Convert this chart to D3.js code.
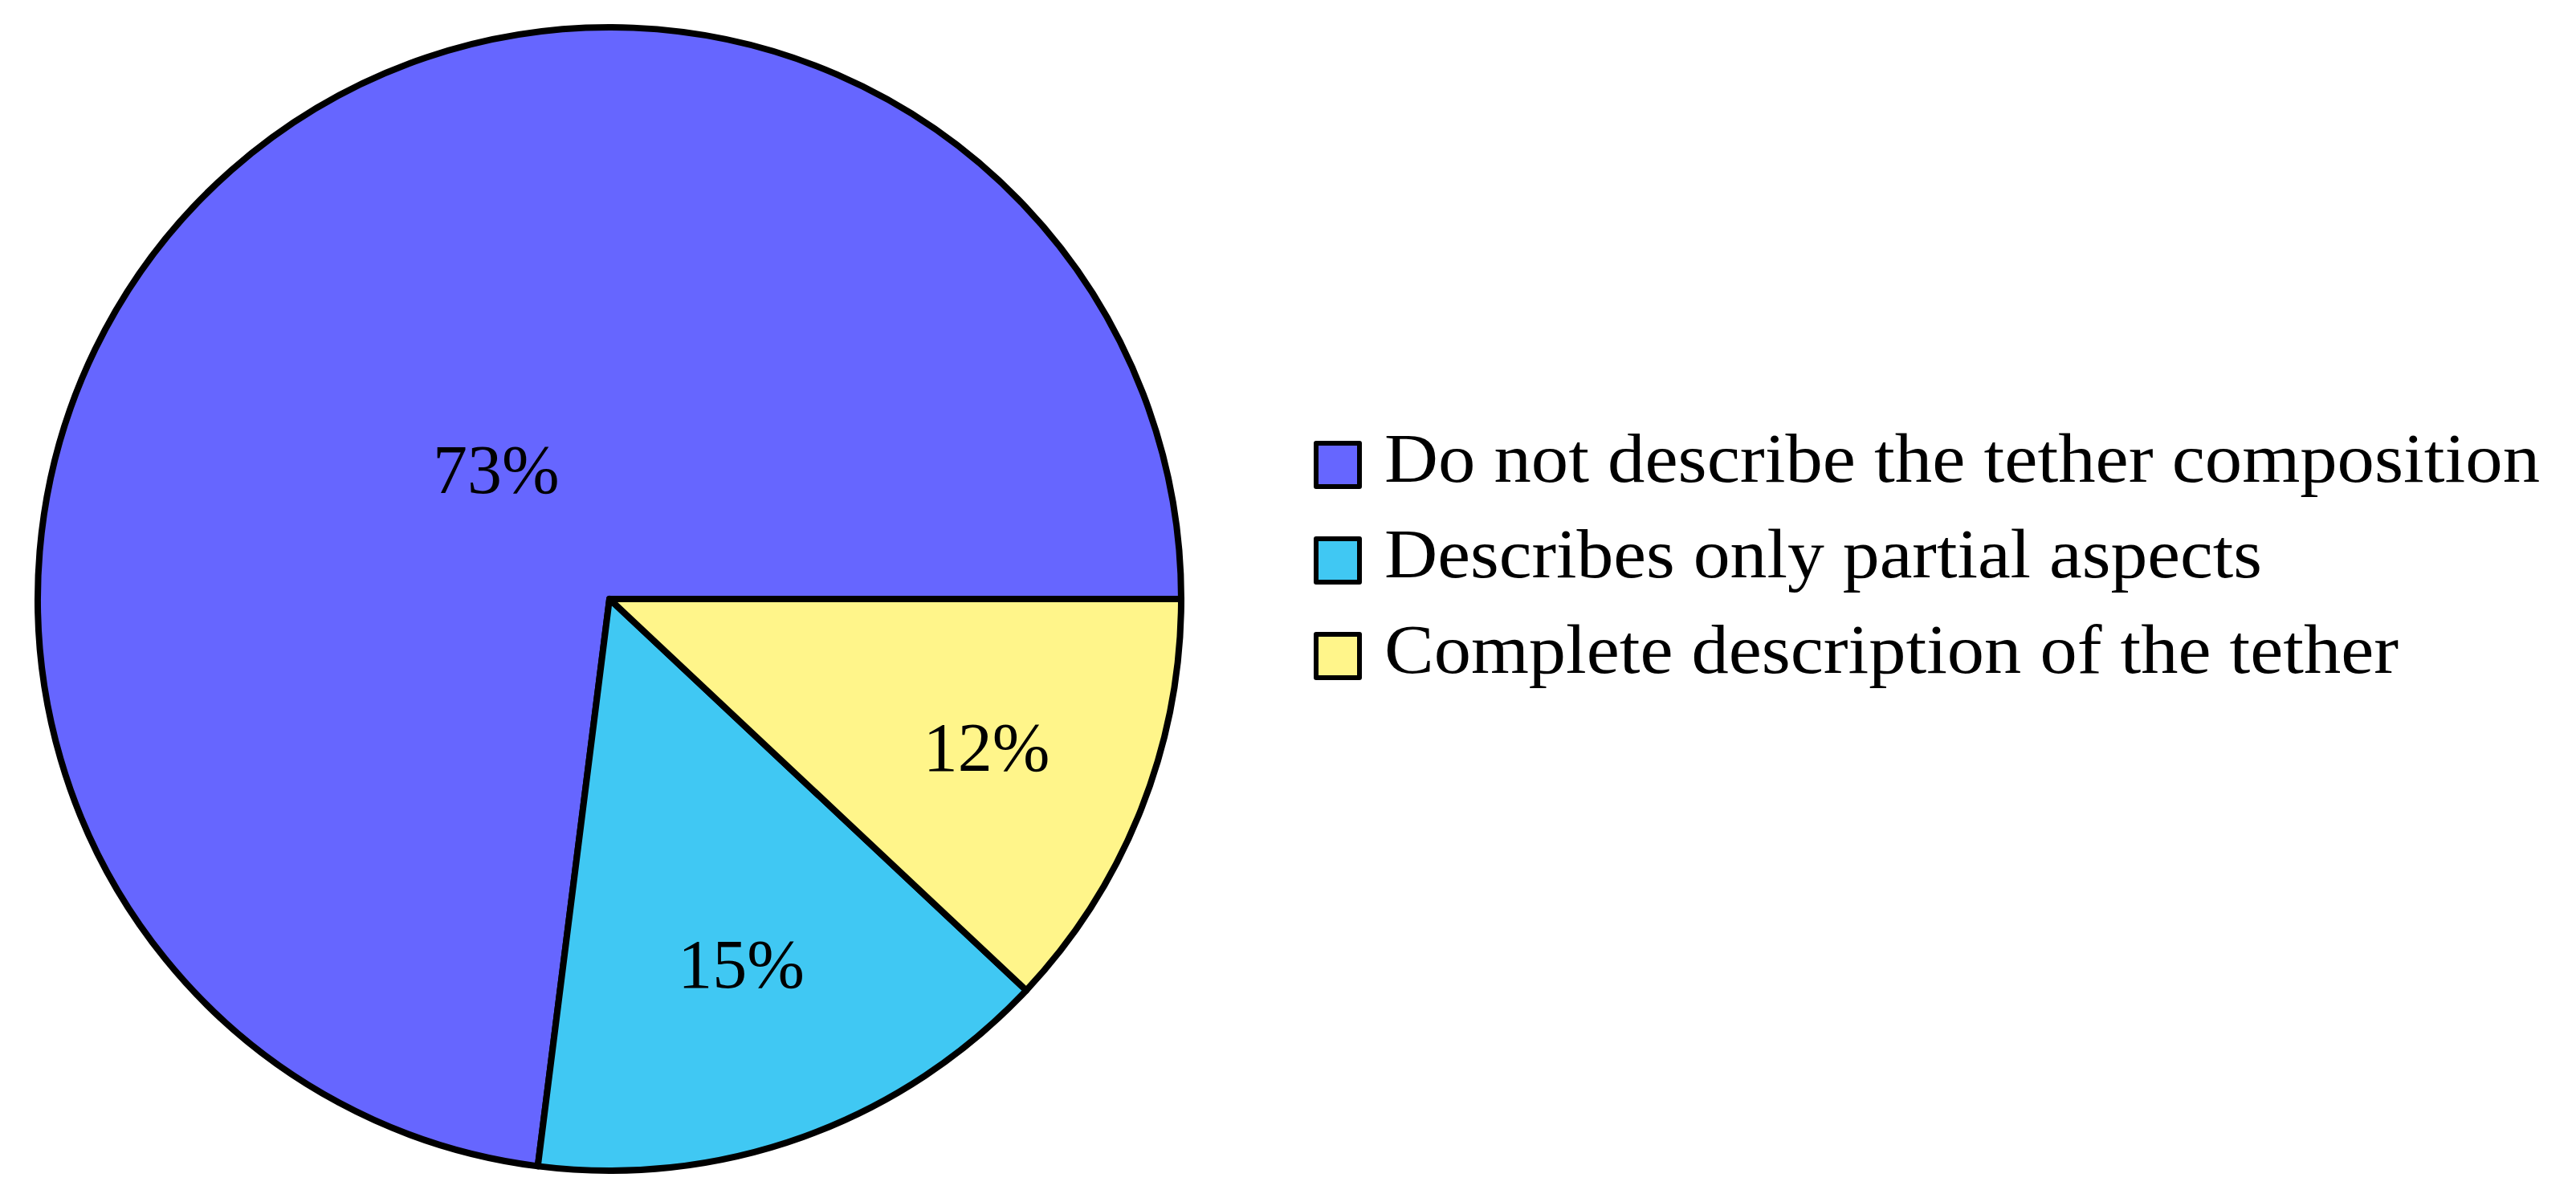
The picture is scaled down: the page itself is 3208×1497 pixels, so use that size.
<!DOCTYPE html>
<html>
<head>
<meta charset="utf-8">
<script src="https://cdn.jsdelivr.net/npm/d3@7"></script>
<style>
  html, body { margin: 0; padding: 0; background: #ffffff; }
  svg { display: block; }
</style>
</head>
<body>
<svg id="chart" width="3208" height="1497"></svg>
<script>
// ---- data ----
const categories = [
  "Do not describe the tether composition",
  "Describes only partial aspects",
  "Complete description of the tether"
];
const values = [73, 15, 12];
const valueLabels = ["73%", "15%", "12%"];
const colors = ["#6666FF", "#40C8F3", "#FFF58A"];

// ---- layout ----
const W = 3208, H = 1497;
const cx = 759, cy = 746, R = 712;
const fontFamily = "'Liberation Serif', 'Times New Roman', serif";
const fontSize = 86;

const svg = d3.select("#chart");

// pie starting at 3 o'clock, counterclockwise (TikZ/pgf-pie style)
const pie = d3.pie()
  .sort(null)
  .value(d => d)
  .startAngle(Math.PI / 2)
  .endAngle(Math.PI / 2 - 2 * Math.PI);

const arcs = pie(values);
const arcGen = d3.arc().innerRadius(0).outerRadius(R);

const g = svg.append("g").attr("transform", `translate(${cx},${cy})`);

g.selectAll("path.slice")
  .data(arcs)
  .join("path")
  .attr("class", "slice")
  .attr("d", arcGen)
  .attr("fill", (d, i) => colors[i])
  .attr("stroke", "#000")
  .attr("stroke-width", 8)
  .attr("stroke-linejoin", "round");

// label radius rule (as in pgf-pie): depends on slice angular span
function labelRadius(d) {
  const spanDeg = Math.abs(d.endAngle - d.startAngle) * 180 / Math.PI;
  const t = Math.max(Math.min((spanDeg - 10) / 110 * (-0.3), 0), -0.5);
  return (t + 0.8) * R;
}

g.selectAll("text.pct")
  .data(arcs)
  .join("text")
  .attr("class", "pct")
  .attr("x", d => {
    const a = (d.startAngle + d.endAngle) / 2;
    return Math.sin(a) * labelRadius(d);
  })
  .attr("y", d => {
    const a = (d.startAngle + d.endAngle) / 2;
    return -Math.cos(a) * labelRadius(d);
  })
  .attr("dy", "0.33em")
  .attr("text-anchor", "middle")
  .attr("font-family", fontFamily)
  .attr("font-size", fontSize)
  .attr("fill", "#000")
  .text((d, i) => valueLabels[i]);

// ---- legend ----
const legendX = 1666, legendY0 = 579, legendStep = 119;
const boxSize = 54;
const textX = 1724;
const textWidths = [1439, 1093, 1263];

const lg = svg.append("g");
const items = lg.selectAll("g.item")
  .data(categories)
  .join("g")
  .attr("class", "item")
  .attr("transform", (d, i) => `translate(0,${legendY0 + i * legendStep})`);

items.append("rect")
  .attr("x", legendX - boxSize / 2)
  .attr("y", -boxSize / 2)
  .attr("width", boxSize)
  .attr("height", boxSize)
  .attr("fill", (d, i) => colors[i])
  .attr("stroke", "#000")
  .attr("stroke-width", 6)
  .attr("stroke-linejoin", "round");

items.append("text")
  .attr("x", textX)
  .attr("y", 21)
  .attr("font-family", fontFamily)
  .attr("font-size", fontSize)
  .attr("fill", "#000")
  .attr("textLength", (d, i) => textWidths[i])
  .attr("lengthAdjust", "spacingAndGlyphs")
  .text(d => d);
</script>
</body>
</html>
